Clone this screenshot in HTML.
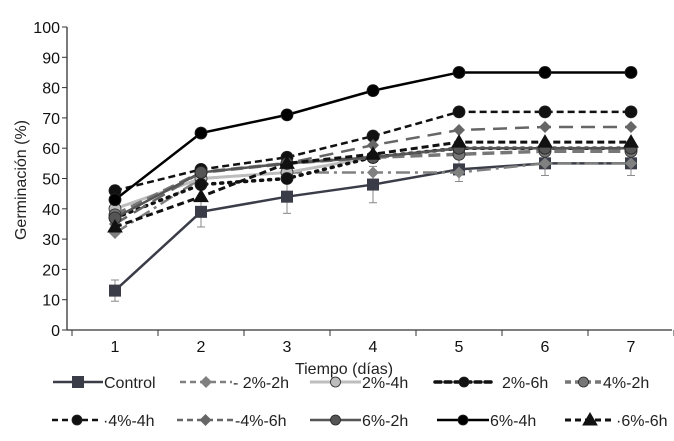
<!DOCTYPE html>
<html><head><meta charset="utf-8">
<style>
body{margin:0;background:#fff;font-family:"Liberation Sans",sans-serif;}
svg{display:block}
</style></head><body>
<svg id="chart" width="674" height="441" viewBox="0 0 674 441" xmlns="http://www.w3.org/2000/svg"></svg>
<script>
const categories=[1,2,3,4,5,6,7];
const yTicks=[0,10,20,30,40,50,60,70,80,90,100];
const control=[13,39,44,48,53,55,55];
const s2_2=[32,50,52,52,52,55,55];
const s2_4=[40,50,52,57,60,60,60];
const s2_6=[37,48,50,57,60,60,60];
const s4_2=[38,52,55,57,58,59,59];
const s4_4=[46,53,57,64,72,72,72];
const s4_6=[35,52,55,61,66,67,67];
const s6_2=[37,52,55,57,60,60,60];
const s6_4=[43,65,71,79,85,85,85];
const s6_6=[34,44,55,58,62,62,62];
const controlErr=[3.5,5,5.5,6,4,4,4];
const seriesNames=["Control","- 2%-2h","2%-4h","2%-6h","4%-2h","·4%-4h","-4%-6h","6%-2h","6%-4h","·6%-6h"];

const series=[
 {name:"control",vals:control,color:"#3a3d48",dash:"",w:2.5,m:"square",err:controlErr},
 {name:"2pct-2h",vals:s2_2,color:"#808080",dash:"14 5 3 5",w:2.5,m:"diamond"},
 {name:"2pct-4h",vals:s2_4,color:"#bdbdbd",dash:"",w:3,m:"circle"},
 {name:"2pct-6h",vals:s2_6,color:"#111",dash:"2 6",w:3.5,m:"circle",lc:"round"},
 {name:"4pct-2h",vals:s4_2,color:"#777",dash:"12 6",w:3.5,m:"circle"},
 {name:"4pct-4h",vals:s4_4,color:"#111",dash:"7 4",w:2.5,m:"circle"},
 {name:"4pct-6h",vals:s4_6,color:"#666",dash:"14 8",w:2.5,m:"diamond"},
 {name:"6pct-2h",vals:s6_2,color:"#555",dash:"",w:2.5,m:"circle"},
 {name:"6pct-4h",vals:s6_4,color:"#000",dash:"",w:2.5,m:"circle"},
 {name:"6pct-6h",vals:s6_6,color:"#111",dash:"7 4",w:3,m:"triangle"}
];
const svg=document.getElementById('chart');
const NS="http://www.w3.org/2000/svg";
function el(t,a,p){const e=document.createElementNS(NS,t);for(const k in a)e.setAttribute(k,a[k]);(p||svg).appendChild(e);return e;}
const x0=67,x1=672,yTop=27,yBot=330;
const xs=i=>115+i*86;
const ys=v=>yBot-(v/100)*(yBot-yTop);

const axes=el('g',{});


el('line',{x1:x0,y1:yTop,x2:x0,y2:yBot,stroke:"#333","stroke-width":1.3},axes);
el('line',{x1:x0,y1:yBot,x2:x1,y2:yBot,stroke:"#333","stroke-width":1.3},axes);
yTicks.forEach(v=>{
 el('line',{x1:x0-5,y1:ys(v),x2:x0,y2:ys(v),stroke:"#333"},axes);
 const t=el('text',{x:x0-7,y:ys(v)+6,"text-anchor":"end","font-size":16,fill:"#111"},axes);
 t.textContent=v;
 
 
});
for(let i=0;i<=categories.length;i++){
 const x=Math.max(x0,xs(i)-43);
 el('line',{x1:x,y1:yBot,x2:x,y2:yBot+6,stroke:"#333"},axes);
}
categories.forEach((c,i)=>{
 const t=el('text',{x:xs(i),y:352,"text-anchor":"middle","font-size":16,fill:"#111"},axes);
 t.textContent=c;
 
 
});
const yt=el('text',{x:0,y:0,transform:"translate(26,180) rotate(-90)","text-anchor":"middle","font-size":16,fill:"#222"});
yt.textContent="Germinación (%)";


const xt=el('text',{x:344,y:374,"text-anchor":"middle","font-size":16,fill:"#222"});
xt.textContent="Tiempo (días)";



function marker(g,m,x,y,color,r){
 if(m==="square")return el('rect',{x:x-6,y:y-6,width:12,height:12,fill:color},g);
 if(m==="diamond")return el('polygon',{points:`${x},${y-6} ${x+6},${y} ${x},${y+6} ${x-6},${y}`,fill:color},g);
 if(m==="triangle")return el('polygon',{points:`${x},${y-7} ${x+7},${y+5} ${x-7},${y+5}`,fill:color,stroke:"#111"},g);
 return el('circle',{cx:x,cy:y,r:r||6,fill:color,stroke:"#222","stroke-width":0.8},g);
}
series.forEach(s=>{
 const g=el('g',{});
 
 
 if(s.err){s.vals.forEach((v,i)=>{
  const x=xs(i);
  el('line',{x1:x,y1:ys(v-s.err[i]),x2:x,y2:ys(v+s.err[i]),stroke:"#888"},g);
  el('line',{x1:x-4,y1:ys(v-s.err[i]),x2:x+4,y2:ys(v-s.err[i]),stroke:"#888"},g);
  el('line',{x1:x-4,y1:ys(v+s.err[i]),x2:x+4,y2:ys(v+s.err[i]),stroke:"#888"},g);
 });}
 const pts=s.vals.map((v,i)=>xs(i)+","+ys(v)).join(" ");
 el('polyline',{points:pts,fill:"none",stroke:s.color,"stroke-width":s.w,"stroke-dasharray":s.dash,"stroke-linecap":s.lc||"butt"},g);
 s.vals.forEach((v,i)=>{
  const mk=marker(g,s.m,xs(i),ys(v),s.color);
  
  
 });
});
// legend
const leg=el('g',{});


const lx=[53,180,310,435,565,52,177,310,437,565];
const lw=[50,52,51,58,37,50,57,51,52,50];
series.forEach((s,i)=>{
 const row=Math.floor(i/5);
 const x=lx[i],y=row?420:382;
 const g=el('g',{},leg);
 
 
 el('line',{x1:x,y1:y,x2:x+lw[i],y2:y,stroke:s.color,"stroke-width":s.w,"stroke-dasharray":s.dash?"6 4":"","stroke-linecap":s.lc||"butt"},g);
 marker(g,s.m,x+lw[i]/2,y,s.color,5);
 const t=el('text',{x:x+lw[i]+(i===3?9:1),y:y+6,"font-size":16,fill:"#222"},g);
 t.textContent=seriesNames[i];
});
</script>
</body></html>
